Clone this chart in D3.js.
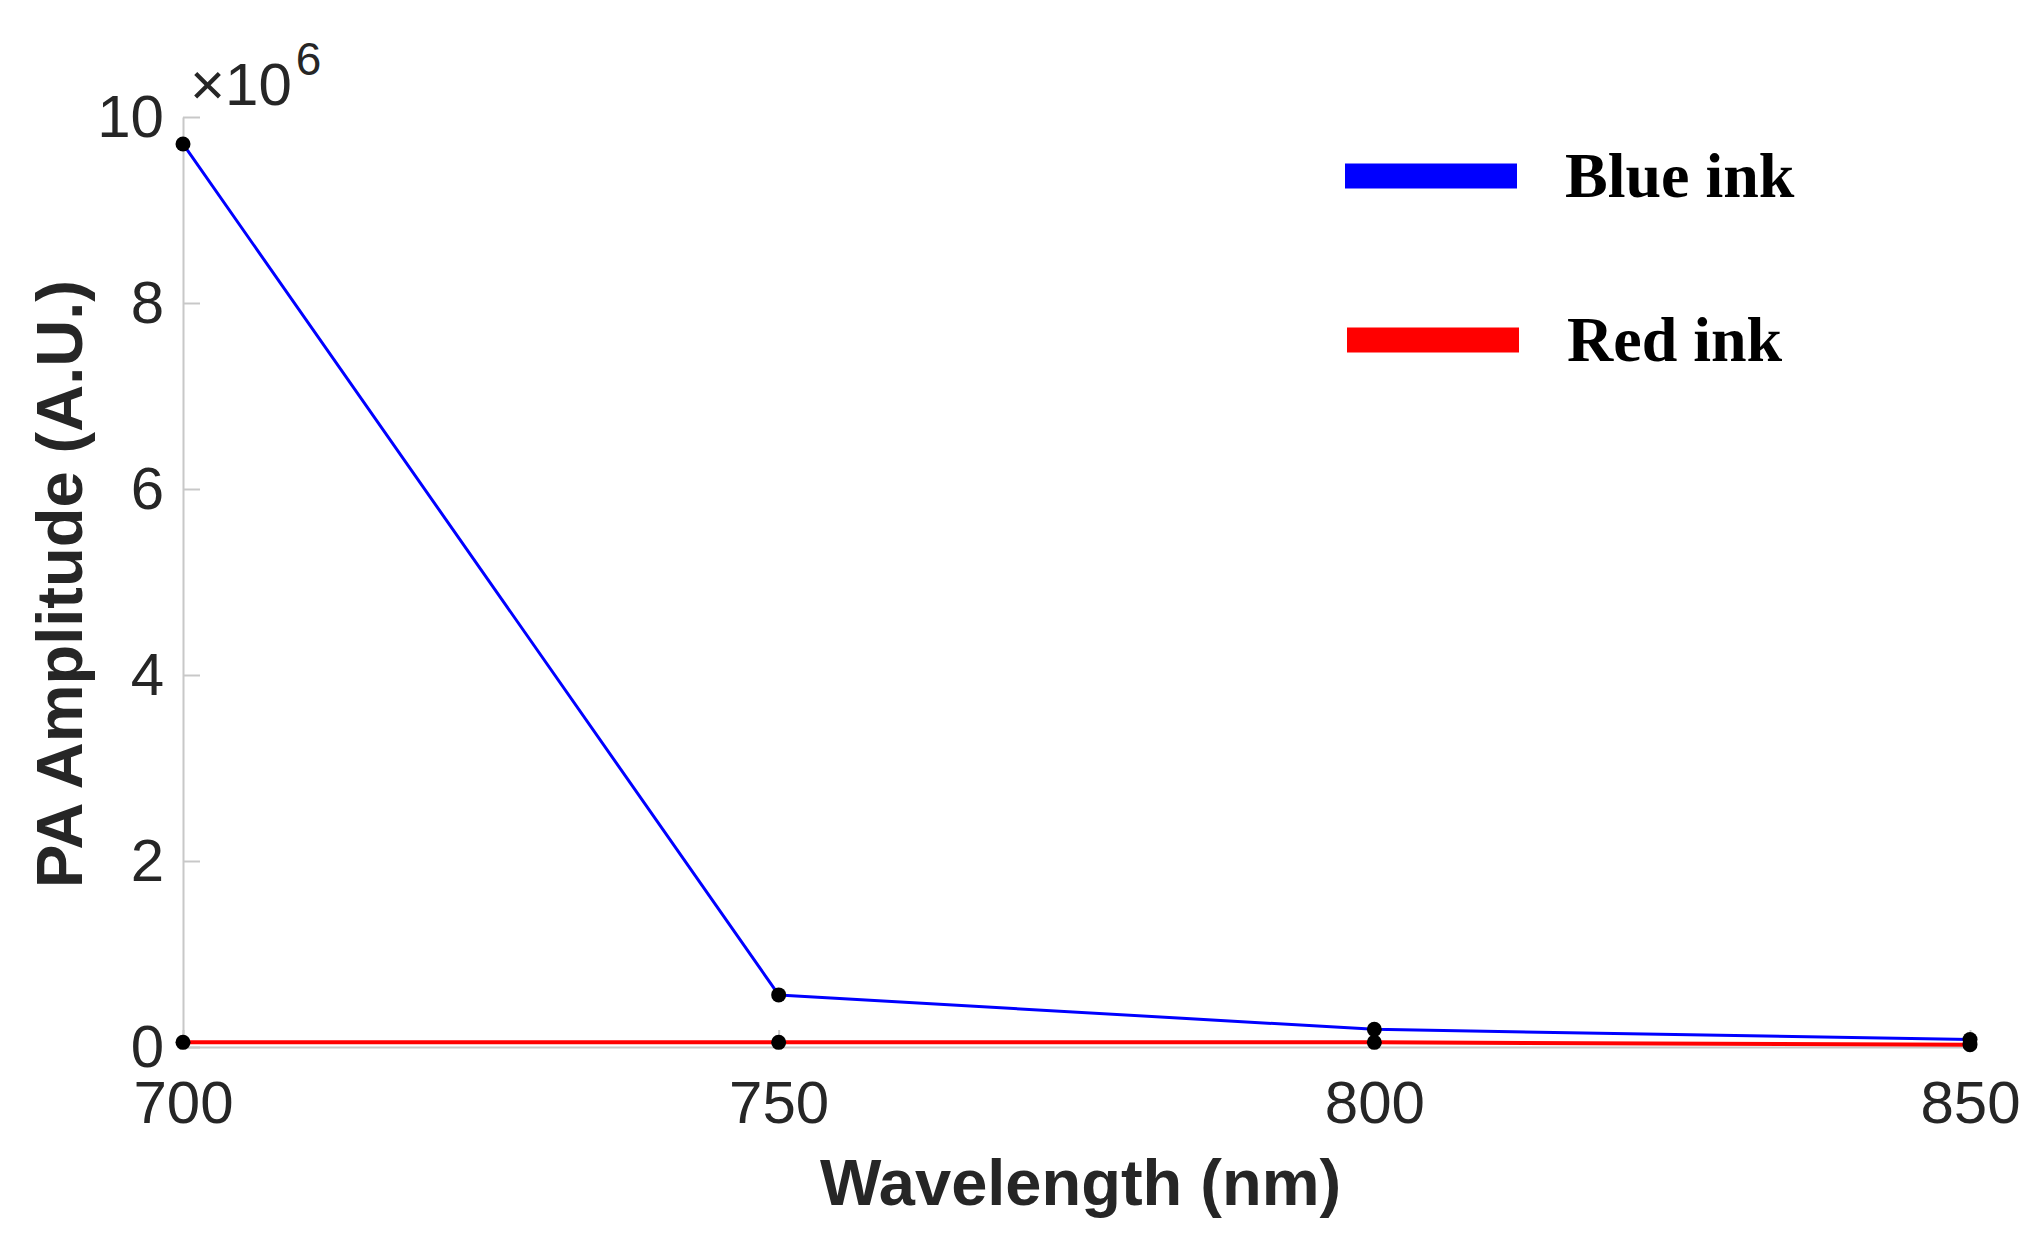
<!DOCTYPE html>
<html>
<head>
<meta charset="utf-8">
<script src="https://cdn.jsdelivr.net/npm/d3@7"></script>
<style>
  body { margin: 0; background: #fff; }
  .axis path, .axis line { stroke: #c8c8c8; stroke-width: 2; }
  .axis text { fill: #262626; font-family: "Liberation Sans", Arial, sans-serif; font-size: 60px; }
</style>
</head>
<body>
<div id="chart"></div>
<script>
// data (PA amplitude, A.U.)
const wavelengths = [700, 750, 800, 850];
const blueInk = [9.71e6, 0.56e6, 0.19e6, 0.08e6];
const redInk = [0.05e6, 0.05e6, 0.05e6, 0.025e6];
const seriesNames = ["Blue ink", "Red ink"];
const seriesColors = ["#0000ff", "#ff0000"];
const xTicks = [700, 750, 800, 850];
const yTicks = [0, 2e6, 4e6, 6e6, 8e6, 10e6];

const W = 2040, H = 1241;
const margin = { top: 117, right: 70, bottom: 194, left: 183 };

const svg = d3.select("#chart")
    .append("svg")
    .attr("width", W)
    .attr("height", H)
    .style("background", "#fff");

const xScale = d3.scaleLinear()
    .domain([700, 850])
    .range([margin.left, W - margin.right]);

const yScale = d3.scaleLinear()
    .domain([0, 10e6])
    .range([H - margin.bottom, margin.top]);

// axes, ticks pointing inward like the matlab figure
svg.append("g")
    .attr("class", "axis x-axis")
    .attr("transform", `translate(0,${H - margin.bottom})`)
    .call(d3.axisBottom(xScale).tickValues(xTicks).tickSizeInner(-17).tickSizeOuter(0).tickPadding(33).tickFormat(d3.format("d")));

svg.append("g")
    .attr("class", "axis y-axis")
    .attr("transform", `translate(${margin.left},0)`)
    .call(d3.axisLeft(yScale).tickValues(yTicks).tickSizeInner(-17).tickSizeOuter(0).tickPadding(19).tickFormat(d => d / 1e6));

// exponent label
const expo = svg.append("text")
    .attr("x", 190)
    .attr("y", 105)
    .style("font-family", "'Liberation Sans', Arial, sans-serif")
    .style("font-size", "60px")
    .style("fill", "#262626");
expo.append("tspan").text("\u00d710");
expo.append("tspan")
    .attr("dx", 4)
    .attr("dy", -30)
    .style("font-size", "46px")
    .text("6");

// lines
const line = d3.line()
    .x(d => xScale(d[0]))
    .y(d => yScale(d[1]));

const series = [
    { name: seriesNames[0], color: seriesColors[0], width: 3, values: wavelengths.map((w, i) => [w, blueInk[i]]) },
    { name: seriesNames[1], color: seriesColors[1], width: 4, values: wavelengths.map((w, i) => [w, redInk[i]]) }
];

svg.selectAll(".line")
    .data(series)
    .enter()
    .append("path")
    .attr("class", "line")
    .attr("fill", "none")
    .attr("stroke", d => d.color)
    .attr("stroke-width", d => d.width)
    .attr("stroke-linejoin", "round")
    .attr("d", d => line(d.values));

// black markers on every point
svg.selectAll(".data-point")
    .data(series.flatMap(s => s.values))
    .enter()
    .append("circle")
    .attr("class", "data-point")
    .attr("cx", d => xScale(d[0]))
    .attr("cy", d => yScale(d[1]))
    .attr("r", 7.5)
    .attr("fill", "#000");

// axis titles
svg.append("text")
    .attr("x", (margin.left + W - margin.right) / 2 + 4)
    .attr("y", 1205)
    .style("text-anchor", "middle")
    .style("font-family", "'Liberation Sans', Arial, sans-serif")
    .style("font-weight", "bold")
    .style("font-size", "65px")
    .style("fill", "#262626")
    .text("Wavelength (nm)");

svg.append("text")
    .attr("transform", "translate(82,584) rotate(-90)")
    .style("text-anchor", "middle")
    .style("font-family", "'Liberation Sans', Arial, sans-serif")
    .style("font-weight", "bold")
    .style("font-size", "65px")
    .style("fill", "#262626")
    .text("PA Amplitude (A.U.)");

// legend
const legend = svg.append("g").attr("transform", "translate(1345,176)");
const items = legend.selectAll(".legend-item")
    .data(series)
    .enter()
    .append("g")
    .attr("class", "legend-item")
    .attr("transform", (d, i) => `translate(${i * 2},${i * 164})`);

items.append("rect")
    .attr("x", 0)
    .attr("y", -12.5)
    .attr("width", 172)
    .attr("height", 25)
    .attr("fill", d => d.color);

items.append("text")
    .attr("x", 220)
    .attr("y", 21)
    .style("font-family", "'Liberation Serif', 'Times New Roman', serif")
    .style("font-weight", "bold")
    .style("font-size", "64px")
    .style("fill", "#000")
    .text(d => d.name);
</script>
</body>
</html>
